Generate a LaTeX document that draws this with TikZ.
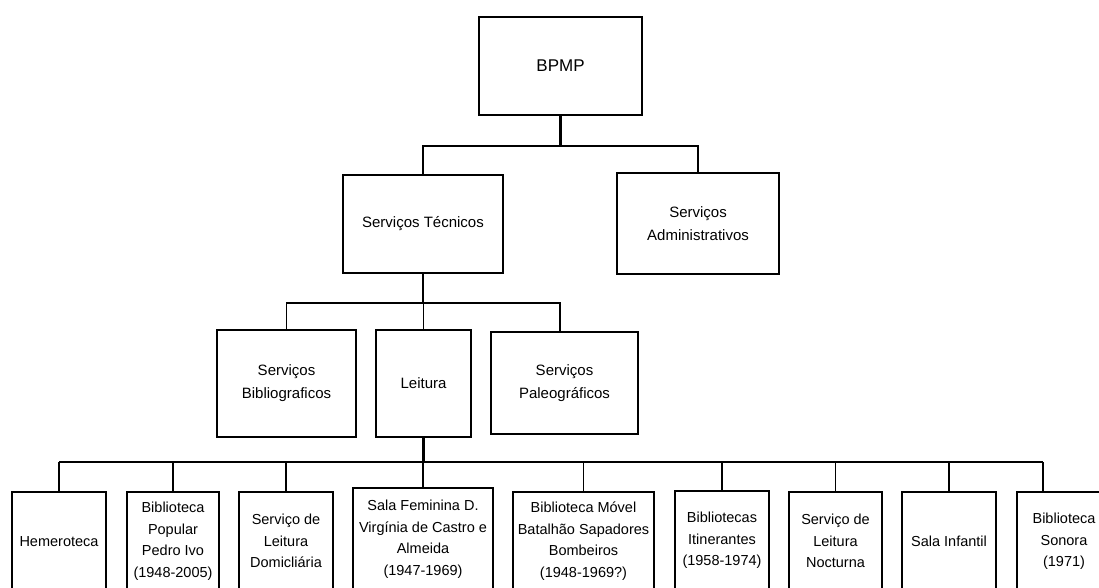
\documentclass[tikz,border=0pt]{standalone}
\usepackage{fontspec}
\setmainfont{Liberation Sans}
\begin{document}
\begin{tikzpicture}[x=1pt,y=-1pt,
		box/.style={draw,line width=1.6pt,inner sep=0pt,align=center,font=\fontsize{15}{23}\selectfont},
		unit/.style={box,anchor=north,minimum height=99pt,font=\fontsize{14.5}{21.5}\selectfont},
		link/.style={line width=1.6pt},
		trunk/.style={line width=2.2pt}]
		\useasboundingbox (0,0) rectangle (1099,588);
		
		\node[box,minimum width=163pt,minimum height=98pt,font=\fontsize{17}{20}\selectfont] (bpmp) at (560.5,66) {BPMP};
		\node[box,minimum width=160pt,minimum height=98pt] (st) at (423,224) {Serviços Técnicos};
		\node[box,minimum width=162pt,minimum height=101pt] (sa) at (698,223.5) {Serviços\\Administrativos};
		
		\node[box,minimum width=139pt,minimum height=107pt] (sb) at (286.5,383.5) {Serviços\\Bibliograficos};
		\node[box,minimum width=95pt,minimum height=107pt] (lei) at (423.5,383.5) {Leitura};
		\node[box,minimum width=147pt,minimum height=102pt] (pal) at (564.5,383) {Serviços\\Paleográficos};
		
		\node[unit,minimum width=94pt] (hem) at (59,491) {Hemeroteca};
		\node[unit,minimum width=92pt] (pop) at (173,491) {Biblioteca\\Popular\\Pedro Ivo\\(1948-2005)};
		\node[unit,minimum width=94pt] (dom) at (286,491) {Serviço de\\Leitura\\Domicliária};
		\node[unit,minimum width=140pt,minimum height=103pt] (fem) at (423,487) {Sala Feminina D.\\Virgínia de Castro e\\Almeida\\(1947-1969)};
		\node[unit,minimum width=141pt] (mov) at (583.5,491) {Biblioteca Móvel\\Batalhão Sapadores\\Bombeiros\\(1948-1969?)};
		\node[unit,minimum width=94pt] (iti) at (722,490) {Bibliotecas\\Itinerantes\\(1958-1974)};
		\node[unit,minimum width=93pt] (noc) at (835.5,491) {Serviço de\\Leitura\\Nocturna};
		\node[unit,minimum width=94pt] (inf) at (949,491) {Sala Infantil};
		\node[unit,minimum width=94pt] (son) at (1064,491) {Biblioteca\\Sonora\\(1971)};
		
		\draw[trunk] (bpmp.south) -- ++(0,30) coordinate (top);
		\draw[link] (st.north) |- (top) -| (sa.north);
		
		\draw[trunk] (st.south) -- ++(0,29) coordinate (mid);
		\draw[link] (sb.north) |- (mid) -| ([xshift=-4.5pt]pal.north);
		\draw[link] (lei.north) -- (lei.north |- mid);
		
		\draw[line width=2.8pt] (lei.south) -- ++(0,24) coordinate (bus);
		\coordinate (sondrop) at ([xshift=27pt]son.north west);
		\draw[trunk] (hem.north |- bus) -- (sondrop |- bus);
		\draw[link] (hem.north) -- (hem.north |- bus);
		\draw[link] (pop.north) -- (pop.north |- bus);
		\draw[link] (dom.north) -- (dom.north |- bus);
		\draw[link] (fem.north) -- (fem.north |- bus);
		\draw[link] (mov.north) -- (mov.north |- bus);
		\draw[link] (iti.north) -- (iti.north |- bus);
		\draw[link] (noc.north) -- (noc.north |- bus);
		\draw[link] (inf.north) -- (inf.north |- bus);
		\draw[link] (sondrop) -- (sondrop |- bus);
	\end{tikzpicture}
\end{document}
